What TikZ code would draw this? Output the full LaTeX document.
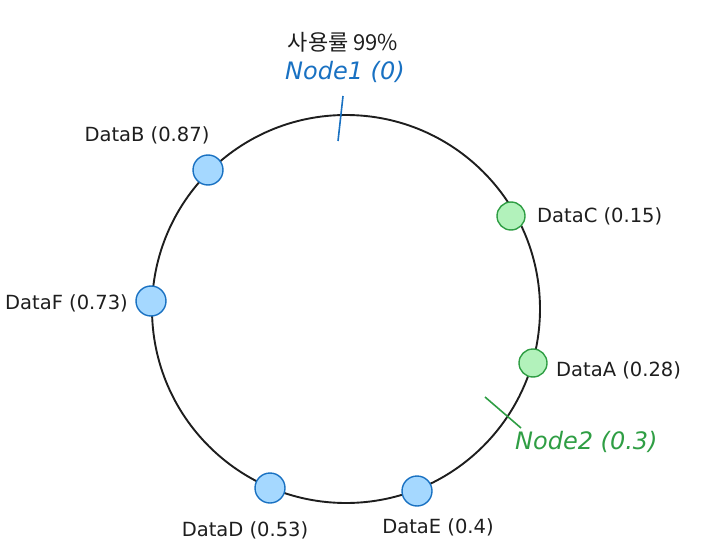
\documentclass[tikz,border=0pt]{standalone}
\usepackage{fontspec}
\setmainfont{DejaVu Sans}
\newfontfamily\kofont{Noto Sans CJK KR}
\definecolor{bfill}{HTML}{A5D8FF}
\definecolor{bline}{HTML}{1971C2}
\definecolor{gfill}{HTML}{B2F2BB}
\definecolor{gline}{HTML}{2F9E44}
\definecolor{ink}{HTML}{1E1E1E}
\begin{document}
\begin{tikzpicture}[x=1pt,y=-1pt,
  ringline/.style={draw=ink,line width=1.9pt},
  bdot/.style={circle,fill=bfill,draw=bline,line width=1.4pt,minimum size=30pt,inner sep=0pt},
  gdot/.style={circle,fill=gfill,draw=gline,line width=1.4pt,minimum size=28pt,inner sep=0pt},
  lbl/.style={text=ink,font=\fontsize{19.5}{22}\selectfont,inner sep=0pt},
  nlbl/.style={font=\fontsize{24}{28}\selectfont\itshape,inner sep=0pt},
  tick/.style={line width=1.6pt}]
\useasboundingbox (0,0) rectangle (704,559);
\node[ringline,circle,minimum size=388pt,inner sep=0pt] (ring) at (346,309) {};
% data markers
\node[bdot] (dB) at (208,170) {};
\node[bdot] (dF) at (151,301) {};
\node[bdot] (dD) at (270,488) {};
\node[bdot] (dE) at (417,491) {};
\node[gdot] (dC) at (511,216) {};
\node[gdot] (dA) at (533,363) {};
% labels
\node[lbl] (tB) at (147,135) {DataB (0.87)};
\node[lbl,anchor=east] (tF) at (128,303) {DataF (0.73)};
\node[lbl] (tD) at (245,530) {DataD (0.53)};
\node[lbl] (tE) at (438,527) {DataE (0.4)};
\node[lbl,anchor=west] (tC) at (537,216) {DataC (0.15)};
\node[lbl,anchor=west] (tA) at (556,370) {DataA (0.28)};
% node ticks
\coordinate (n1a) at (343,96);
\coordinate (n1b) at (338,141);
\draw[tick,bline] (n1a) -- (n1b);
\coordinate (n2a) at (485,397);
\coordinate (n2b) at (521,428);
\draw[tick,gline] (n2a) -- (n2b);
\node[nlbl,text=bline] (t1) at (345,72) {Node1 (0)};
\node[nlbl,text=gline,anchor=west] (t2) at (515,442) {Node2 (0.3)};
\node[text=ink,font=\kofont\fontsize{22}{26}\selectfont,inner sep=0pt] (use) at (343,42) {사용률 99\%};
\end{tikzpicture}
\end{document}
